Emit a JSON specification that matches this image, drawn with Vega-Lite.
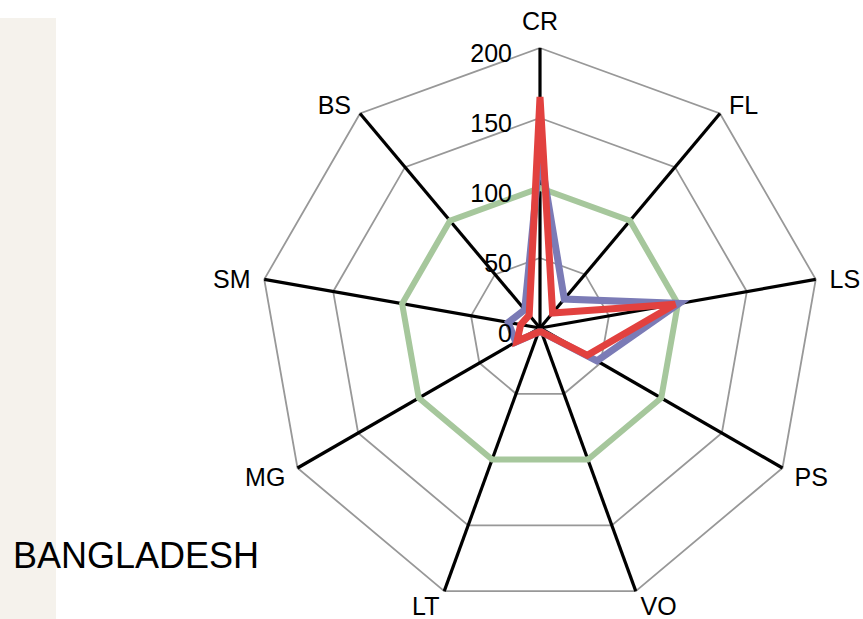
{
  "$schema": "https://vega.github.io/schema/vega-lite/v6.json",
  "width": 863,
  "height": 619,
  "padding": 0,
  "autosize": {"type": "none"},
  "background": "#ffffff",
  "config": {"view": {"stroke": null}, "font": "Liberation Sans"},
  "datasets": {
    "axes": [
      {"axis": "CR", "i": 0, "ring": [50, 100, 150, 200]},
      {"axis": "FL", "i": 1, "ring": [50, 100, 150, 200]},
      {"axis": "LS", "i": 2, "ring": [50, 100, 150, 200]},
      {"axis": "PS", "i": 3, "ring": [50, 100, 150, 200]},
      {"axis": "VO", "i": 4, "ring": [50, 100, 150, 200]},
      {"axis": "LT", "i": 5, "ring": [50, 100, 150, 200]},
      {"axis": "MG", "i": 6, "ring": [50, 100, 150, 200]},
      {"axis": "SM", "i": 7, "ring": [50, 100, 150, 200]},
      {"axis": "BS", "i": 8, "ring": [50, 100, 150, 200]}
    ],
    "ticks": [
      {"tick": 0}, {"tick": 50}, {"tick": 100}, {"tick": 150}, {"tick": 200}
    ],
    "series": [
      {"series": "Reference", "axis": "CR", "value": 100},
      {"series": "Reference", "axis": "FL", "value": 100},
      {"series": "Reference", "axis": "LS", "value": 100},
      {"series": "Reference", "axis": "PS", "value": 100},
      {"series": "Reference", "axis": "VO", "value": 100},
      {"series": "Reference", "axis": "LT", "value": 100},
      {"series": "Reference", "axis": "MG", "value": 100},
      {"series": "Reference", "axis": "SM", "value": 100},
      {"series": "Reference", "axis": "BS", "value": 100},
      {"series": "Series 1", "axis": "CR", "value": 125},
      {"series": "Series 1", "axis": "FL", "value": 27},
      {"series": "Series 1", "axis": "LS", "value": 101},
      {"series": "Series 1", "axis": "PS", "value": 47},
      {"series": "Series 1", "axis": "VO", "value": 3},
      {"series": "Series 1", "axis": "LT", "value": 3},
      {"series": "Series 1", "axis": "MG", "value": 20},
      {"series": "Series 1", "axis": "SM", "value": 23},
      {"series": "Series 1", "axis": "BS", "value": 17},
      {"series": "Series 2", "axis": "CR", "value": 165},
      {"series": "Series 2", "axis": "FL", "value": 14},
      {"series": "Series 2", "axis": "LS", "value": 98},
      {"series": "Series 2", "axis": "PS", "value": 39},
      {"series": "Series 2", "axis": "VO", "value": 3},
      {"series": "Series 2", "axis": "LT", "value": 3},
      {"series": "Series 2", "axis": "MG", "value": 19},
      {"series": "Series 2", "axis": "SM", "value": 14},
      {"series": "Series 2", "axis": "BS", "value": 12}
    ],
    "title": [{"label": "BANGLADESH"}]
  },
  "layer": [
    {
      "data": {"name": "title"},
      "mark": {"type": "rect", "color": "#f5f2ec"},
      "encoding": {
        "x": {"datum": -385.714, "type": "quantitative", "scale": {"domain": [-385.714, 230.714], "nice": false, "zero": false}, "axis": null},
        "x2": {"datum": -345.714},
        "y": {"datum": 221.43, "type": "quantitative", "scale": {"domain": [-207.857, 234.286], "nice": false, "zero": false}, "axis": null},
        "y2": {"datum": -207.857}
      }
    },
    {
      "data": {"name": "axes"},
      "transform": [
        {"flatten": ["ring"]},
        {"calculate": "datum.i * 2 * PI / 9", "as": "a"},
        {"calculate": "datum.ring * sin(datum.a)", "as": "x"},
        {"calculate": "datum.ring * cos(datum.a)", "as": "y"}
      ],
      "mark": {"type": "line", "interpolate": "linear-closed", "color": "#989898", "strokeWidth": 1.8},
      "encoding": {
        "x": {"field": "x", "type": "quantitative", "axis": null},
        "y": {"field": "y", "type": "quantitative", "axis": null},
        "detail": {"field": "ring"},
        "order": {"field": "i"}
      }
    },
    {
      "data": {"name": "axes"},
      "transform": [
        {"calculate": "datum.i * 2 * PI / 9", "as": "a"},
        {"calculate": "200 * sin(datum.a)", "as": "ex"},
        {"calculate": "200 * cos(datum.a)", "as": "ey"}
      ],
      "mark": {"type": "rule", "color": "#000000", "strokeWidth": 3.2},
      "encoding": {
        "x": {"field": "ex", "type": "quantitative", "axis": null},
        "y": {"field": "ey", "type": "quantitative", "axis": null},
        "x2": {"datum": 0},
        "y2": {"datum": 0}
      }
    },
    {
      "data": {"name": "series"},
      "transform": [
        {"filter": "datum.series == 'Reference'"},
        {"lookup": "axis", "from": {"data": {"name": "axes"}, "key": "axis", "fields": ["i"]}},
        {"calculate": "datum.i * 2 * PI / 9", "as": "a"},
        {"calculate": "datum.value * sin(datum.a)", "as": "x"},
        {"calculate": "datum.value * cos(datum.a)", "as": "y"}
      ],
      "mark": {"type": "line", "interpolate": "linear-closed", "color": "#a6c79c", "strokeWidth": 6},
      "encoding": {
        "x": {"field": "x", "type": "quantitative", "axis": null},
        "y": {"field": "y", "type": "quantitative", "axis": null},
        "order": {"field": "i"}
      }
    },
    {
      "data": {"name": "series"},
      "transform": [
        {"filter": "datum.series == 'Series 1'"},
        {"lookup": "axis", "from": {"data": {"name": "axes"}, "key": "axis", "fields": ["i"]}},
        {"calculate": "datum.i * 2 * PI / 9", "as": "a"},
        {"calculate": "datum.value * sin(datum.a)", "as": "x"},
        {"calculate": "datum.value * cos(datum.a)", "as": "y"}
      ],
      "mark": {"type": "line", "interpolate": "linear-closed", "color": "#7b7bb6", "strokeWidth": 7, "strokeJoin": "miter"},
      "encoding": {
        "x": {"field": "x", "type": "quantitative", "axis": null},
        "y": {"field": "y", "type": "quantitative", "axis": null},
        "order": {"field": "i"}
      }
    },
    {
      "data": {"name": "series"},
      "transform": [
        {"filter": "datum.series == 'Series 2'"},
        {"lookup": "axis", "from": {"data": {"name": "axes"}, "key": "axis", "fields": ["i"]}},
        {"calculate": "datum.i * 2 * PI / 9", "as": "a"},
        {"calculate": "datum.value * sin(datum.a)", "as": "x"},
        {"calculate": "datum.value * cos(datum.a)", "as": "y"}
      ],
      "mark": {"type": "line", "interpolate": "linear-closed", "color": "#e2413f", "strokeWidth": 7, "strokeJoin": "miter"},
      "encoding": {
        "x": {"field": "x", "type": "quantitative", "axis": null},
        "y": {"field": "y", "type": "quantitative", "axis": null},
        "order": {"field": "i"}
      }
    },
    {
      "data": {"name": "ticks"},
      "mark": {"type": "text", "align": "right", "baseline": "middle", "dy": 6, "fontSize": 25, "color": "#000000"},
      "encoding": {
        "x": {"datum": -20, "type": "quantitative", "axis": null},
        "y": {"field": "tick", "type": "quantitative", "axis": null},
        "text": {"field": "tick", "type": "quantitative"}
      }
    },
    {
      "data": {"name": "axes"},
      "transform": [
        {"filter": "datum.i == 0"},
        {"calculate": "datum.i * 2 * PI / 9", "as": "a"},
        {"calculate": "210 * sin(datum.a)", "as": "lx"},
        {"calculate": "210 * cos(datum.a)", "as": "ly"}
      ],
      "mark": {"type": "text", "align": "center", "baseline": "middle", "dy": -12, "fontSize": 25, "color": "#000000"},
      "encoding": {
        "x": {"field": "lx", "type": "quantitative", "axis": null},
        "y": {"field": "ly", "type": "quantitative", "axis": null},
        "text": {"field": "axis"}
      }
    },
    {
      "data": {"name": "axes"},
      "transform": [
        {"filter": "datum.i >= 1 && datum.i <= 4"},
        {"calculate": "datum.i * 2 * PI / 9", "as": "a"},
        {"calculate": "210 * sin(datum.a)", "as": "lx"},
        {"calculate": "210 * cos(datum.a)", "as": "ly"}
      ],
      "mark": {"type": "text", "align": "left", "baseline": "middle", "dy": 3, "fontSize": 25, "color": "#000000"},
      "encoding": {
        "x": {"field": "lx", "type": "quantitative", "axis": null},
        "y": {"field": "ly", "type": "quantitative", "axis": null},
        "text": {"field": "axis"}
      }
    },
    {
      "data": {"name": "axes"},
      "transform": [
        {"filter": "datum.i >= 5"},
        {"calculate": "datum.i * 2 * PI / 9", "as": "a"},
        {"calculate": "210 * sin(datum.a)", "as": "lx"},
        {"calculate": "210 * cos(datum.a)", "as": "ly"}
      ],
      "mark": {"type": "text", "align": "right", "baseline": "middle", "dy": 3, "fontSize": 25, "color": "#000000"},
      "encoding": {
        "x": {"field": "lx", "type": "quantitative", "axis": null},
        "y": {"field": "ly", "type": "quantitative", "axis": null},
        "text": {"field": "axis"}
      }
    },
    {
      "data": {"name": "title"},
      "mark": {"type": "text", "align": "left", "baseline": "alphabetic", "fontSize": 36, "color": "#000000"},
      "encoding": {
        "x": {"datum": -376.43, "type": "quantitative", "axis": null},
        "y": {"datum": -171.43, "type": "quantitative", "axis": null},
        "text": {"field": "label"}
      }
    }
  ]
}
